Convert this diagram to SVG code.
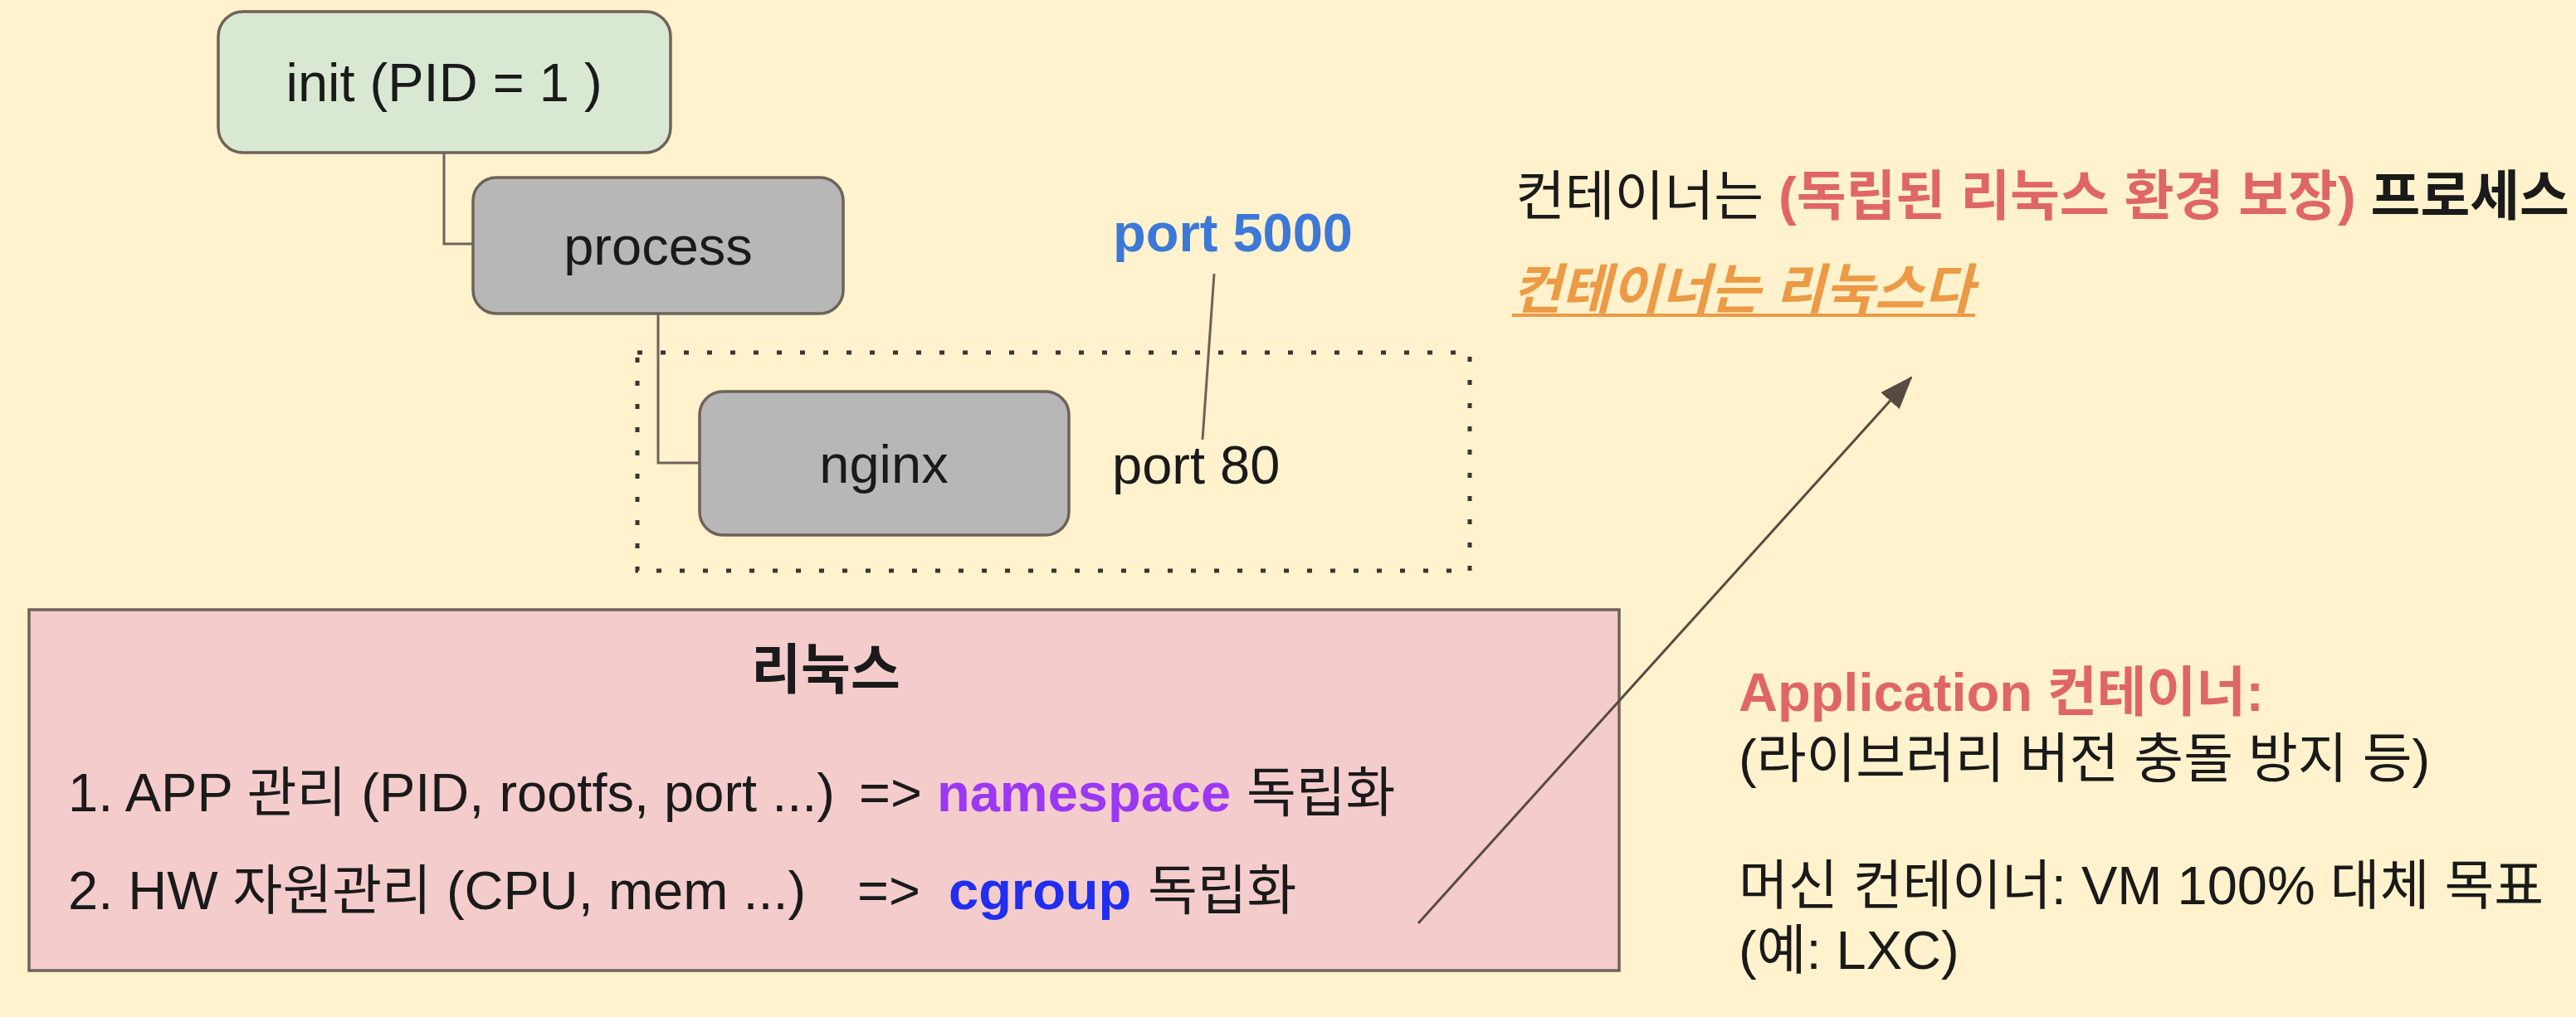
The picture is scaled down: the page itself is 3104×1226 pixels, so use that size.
<svg xmlns="http://www.w3.org/2000/svg" width="3104" height="1226" viewBox="0 0 3104 1226">
<style>
  text { font-family: "Liberation Sans", "Noto Sans CJK KR", sans-serif; font-size: 65px; fill: #1a1a1a; }
  .box { stroke: #6f625a; stroke-width: 3.5; }
  .conn { fill: none; stroke: #6f625a; stroke-width: 3; }
  .b { font-weight: bold; }
  .ctr { text-anchor: middle; }
  .salmon { fill: #e06666; }
</style>
<defs>
  <marker id="ah" markerWidth="40" markerHeight="30" refX="38" refY="15" orient="auto" markerUnits="userSpaceOnUse">
    <path d="M0,0 L40,15 L0,30 z" fill="#574a43"/>
  </marker>
</defs>
<rect x="0" y="0" width="3104" height="1226" fill="#fff2cc"/>

<g id="container-scope">
  <rect x="768" y="425" width="1003" height="263" fill="none" stroke="#3a3532" stroke-width="5" stroke-dasharray="6 22"/>
</g>

<g id="init">
  <rect class="box" x="263" y="14" width="545" height="170" rx="30" fill="#d9e8d3"/>
  <text class="ctr" x="535" y="122">init (PID = 1 )</text>
</g>

<g id="process">
  <rect class="box" x="570" y="214" width="446" height="164" rx="28" fill="#b7b7b7"/>
  <text class="ctr" x="793" y="319">process</text>
</g>

<g id="nginx">
  <rect class="box" x="843" y="472" width="445" height="173" rx="28" fill="#b7b7b7"/>
  <text class="ctr" x="1065" y="582">nginx</text>
</g>

<g id="port80">
  <text x="1340" y="583">port 80</text>
</g>

<g id="port5000">
  <text class="b" x="1341" y="303" style="fill:#3c78d8">port 5000</text>
</g>

<g id="linux">
  <rect class="box" x="35" y="735" width="1916" height="435" fill="#f4cccc"/>
  <text class="ctr b" x="995" y="830">리눅스</text>
  <text x="82" y="978">1. APP 관리 (PID, rootfs, port ...)<tspan x="1035">=&gt;</tspan><tspan x="1129" class="b" style="fill:#9b37f5">namespace</tspan><tspan x="1502">독립화</tspan></text>
  <text x="82" y="1096">2. HW 자원관리 (CPU, mem ...)<tspan x="1033">=&gt;</tspan><tspan x="1143" class="b" style="fill:#1f2ef0">cgroup</tspan><tspan x="1383">독립화</tspan></text>
</g>

<g id="headline">
  <text x="1826" y="259">컨테이너는 <tspan class="b salmon">(독립된 리눅스 환경 보장)</tspan> <tspan class="b">프로세스</tspan></text>
  <text x="1822" y="372" class="b" style="fill:#ec9a45; font-style: italic">컨테이너는 리눅스다</text>
  <line x1="1822" y1="380" x2="2380" y2="380" stroke="#ec9a45" stroke-width="4"/>
</g>

<g id="types">
  <text x="2095" y="857" class="b salmon">Application 컨테이너:</text>
  <text x="2095" y="937">(라이브러리 버전 충돌 방지 등)</text>
  <text x="2095" y="1090">머신 컨테이너: VM 100% 대체 목표</text>
  <text x="2095" y="1168">(예: LXC)</text>
</g>

<g id="connectors">
  <path class="conn" d="M535,184 L535,294 L570,294"/>
  <path class="conn" d="M793,378 L793,558 L843,558"/>
  <line x1="1449" y1="530" x2="1463" y2="330" stroke="#6f625a" stroke-width="3"/>
  <line x1="1709" y1="1113" x2="2303" y2="455" stroke="#574a43" stroke-width="3" marker-end="url(#ah)"/>
</g>
</svg>
